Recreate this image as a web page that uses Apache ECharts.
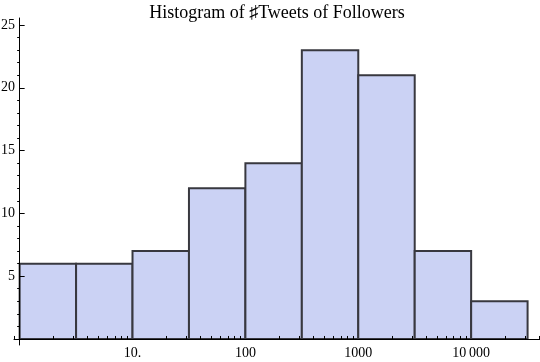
<!DOCTYPE html>
<html><head><meta charset="utf-8">
<script src="https://cdn.jsdelivr.net/npm/echarts@6/dist/echarts.min.js"></script>
<style>html,body{margin:0;padding:0;background:#fff}#c{width:540px;height:362px}</style>
</head><body><div id="c"></div>
<script>
// ---- data ----
const titleText = 'Histogram of \u266FTweets of Followers';
// bin edges in log10 units (1, 10^0.5, 10, ... 10^4.5)
const binLogEdges = [0, 0.5, 1, 1.5, 2, 2.5, 3, 3.5, 4, 4.5];
const counts = [6, 6, 7, 12, 14, 23, 21, 7, 3];
const xMajorLog = [1, 2, 3, 4];
const xMajorLabels = ['10.', '100', '1000', '10\u2009000'];
const xMinorMultipliers = [2, 3, 4, 5, 6, 7, 8, 9];
const xDecades = [-1, 0, 1, 2, 3, 4];
const yMajor = [5, 10, 15, 20, 25];
const yMinor = [1, 2, 3, 4, 6, 7, 8, 9, 11, 12, 13, 14, 16, 17, 18, 19, 21, 22, 23, 24];

const xMin = -0.05, xMax = 4.61, yMin = -0.48, yMax = 25.56;
const xMinorLog = [];
xDecades.forEach(d => xMinorMultipliers.forEach(m => {
  const v = d + Math.log10(m);
  if (v <= xMax && v >= xMin) xMinorLog.push(v);
}));
const labelMap = {};
xMajorLog.forEach((v, i) => labelMap[v] = xMajorLabels[i]);

const barData = counts.map((c, i) => [binLogEdges[i], binLogEdges[i + 1], c]);

const serif = 'Liberation Serif';
const chart = echarts.init(document.getElementById('c'));
chart.setOption({
  animation: false,
  title: {
    text: titleText, left: 272, top: -1, textAlign: 'center',
    textStyle: { fontFamily: serif, fontSize: 18, fontWeight: 'normal', color: '#000' }
  },
  grid: { left: 14, right: 0, top: 18, bottom: 17, containLabel: false, outerBoundsMode: 'none' },
  xAxis: [{
    type: 'value', min: xMin, max: xMax, z: 10,
    axisLine: { onZero: true, onZeroAxisIndex: 0, lineStyle: { color: '#000', width: 1 } },
    axisTick: { show: true, inside: true, length: 3, customValues: xMinorLog, lineStyle: { color: '#000' } },
    axisLabel: { customValues: xMajorLog, formatter: v => labelMap[v] || '', margin: 1,
      fontFamily: serif, fontSize: 14, color: '#000', hideOverlap: false },
    splitLine: { show: false }
  }],
  yAxis: [{
    type: 'value', min: yMin, max: yMax, z: 10, position: 'left',
    axisLine: { onZero: true, onZeroAxisIndex: 0, lineStyle: { color: '#000', width: 1 } },
    axisTick: { show: true, inside: true, length: 5, customValues: yMajor, lineStyle: { color: '#000' } },
    axisLabel: { customValues: yMajor, margin: -1, align: 'right', fontFamily: serif, fontSize: 14, color: '#000', hideOverlap: false },
    splitLine: { show: false }
  }, {
    type: 'value', min: yMin, max: yMax, z: 10, position: 'left',
    axisLine: { show: false, onZero: true, onZeroAxisIndex: 0 },
    axisTick: { show: true, inside: false, length: 2.5, customValues: yMinor, lineStyle: { color: '#000' } },
    axisLabel: { show: false },
    splitLine: { show: false }
  }],
  series: [{
    type: 'custom',
    data: barData,
    encode: { x: [0, 1], y: 2 },
    renderItem: function (params, api) {
      const p1 = api.coord([api.value(0), api.value(2)]);
      const p2 = api.coord([api.value(1), 0]);
      return {
        type: 'rect',
        shape: { x: p1[0], y: p1[1], width: p2[0] - p1[0], height: p2[1] - p1[1] },
        style: { fill: '#cbd2f4', stroke: '#38383f', lineWidth: 2 }
      };
    }
  }]
});
</script>
</body></html>
